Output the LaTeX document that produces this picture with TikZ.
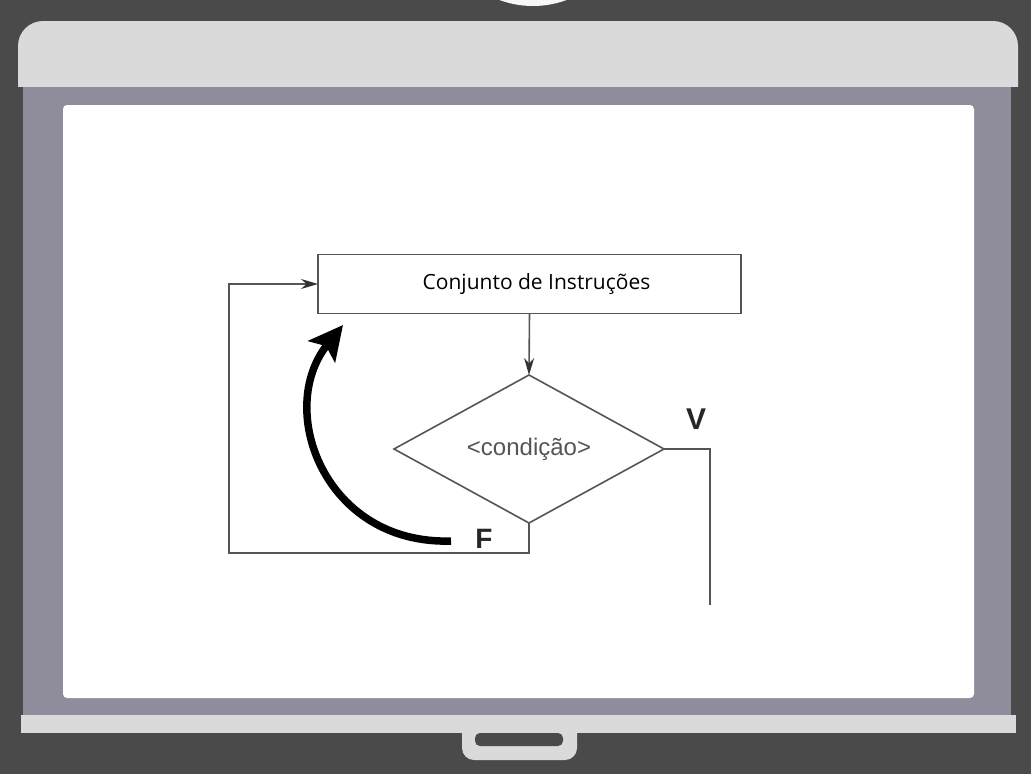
\documentclass[tikz,border=0pt]{standalone}
\usepackage{fontspec}
\setmainfont{Liberation Sans}
\newfontfamily\handfont{Open Sans}
\usetikzlibrary{arrows.meta,shapes.geometric}
\definecolor{wallgray}{HTML}{4A4A4A}
\definecolor{bargray}{HTML}{DADADA}
\definecolor{framegray}{HTML}{8F8D9B}
\definecolor{linegray}{HTML}{555555}

\begin{document}
\begin{tikzpicture}[x=1pt,y=-1pt,
  flow/.style={draw=linegray,line width=1.6pt,outer sep=0pt},
  tip/.style={-{Stealth[length=17pt,width=10pt,color=black!80]}}]
  \useasboundingbox (0,0) rectangle (1031,774);
  % tela
  \fill[wallgray] (0,0) rectangle (1031,774);
  \begin{scope}
    \clip (0,0) rectangle (1031,774);
    \fill[white!94!gray] (533,-90) circle[radius=96];
  \end{scope}
  \fill[bargray,rounded corners=25pt] (18,21) rectangle (1018,112);
  \fill[wallgray] (17,87) rectangle (1019,113);
  \fill[framegray] (23,87) rectangle (1011,716);
  \fill[white,rounded corners=4pt] (63,105) rectangle (974,698);
  \fill[bargray] (21,715) rectangle (1016,733);
  \fill[bargray,rounded corners=12pt] (462,720) rectangle (577,760);
  \fill[wallgray,rounded corners=5pt] (475,733) rectangle (563,746);

  % fluxograma
  \node[flow,rectangle,minimum width=423pt,minimum height=59pt,inner sep=0pt,
    font=\handfont\fontsize{21}{21}\selectfont] (instr) at (529.5,284) {\hspace{14pt}Conjunto de Instruções};
  \node[flow,diamond,minimum width=270pt,minimum height=148pt,inner sep=0pt,
    text=linegray,font=\fontsize{24}{24}\selectfont] (cond) at (529,449) {<condição>};
  \node[text=black!85,font=\bfseries\fontsize{30}{30}\selectfont] (lv) at (696,419) {V};
  \node[text=black!85,font=\bfseries\fontsize{28}{28}\selectfont] (lf) at (484,539) {F};
  \coordinate (vend) at (710,605);
  \coordinate (fcorner) at (229,553);
  \draw[flow,tip] (instr.south) -- (cond.north);
  \draw[flow] (cond.east) -| (vend);
  \draw[flow,tip] (cond.south) |- (fcorner) |- (instr.west);

  \coordinate (ctail) at (451,541);
  \coordinate (chead) at (343,325);
  \draw[line width=7.5pt,-{Stealth[length=34pt,width=34pt,inset=7pt]}]
    (ctail) .. controls (325,545) and (275,410) .. (chead);
\end{tikzpicture}
\end{document}
